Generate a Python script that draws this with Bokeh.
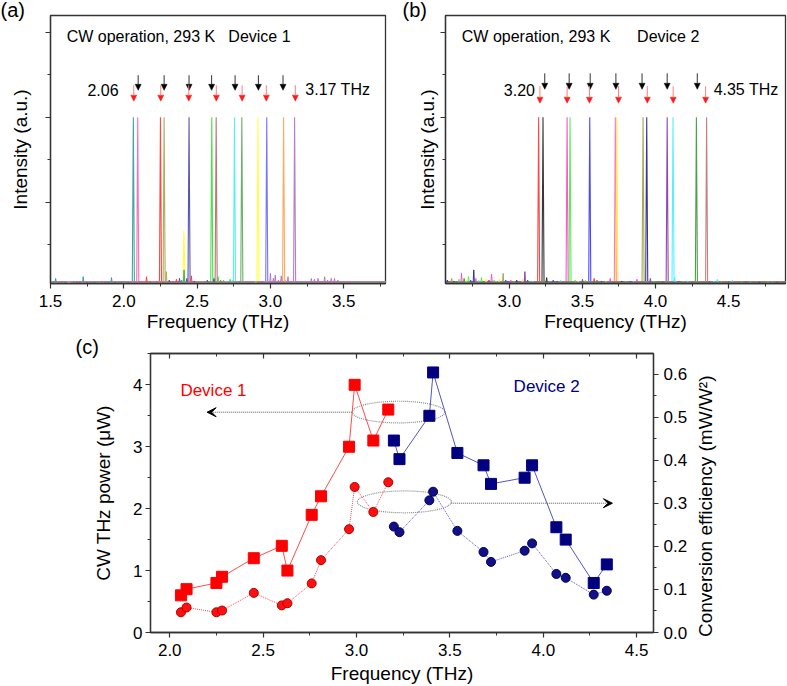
from bokeh.plotting import figure
from bokeh.models import (Range1d, LinearAxis, Label, Arrow, NormalHead, VeeHead, Title,
                          ColumnDataSource, SingleIntervalTicker, CustomJSTickFormatter,
                          PrintfTickFormatter)
from bokeh.layouts import column, row
from bokeh.embed import file_html
from bokeh.resources import INLINE

FONT = "Liberation Sans"
AX = "#333333"

# ---------------- panel (a): Device 1 spectra ----------------
a_peak_freq = [2.065, 2.095, 2.25, 2.275, 2.445, 2.60, 2.63, 2.755, 2.805, 2.915, 2.975, 3.09, 3.165]
a_peak_height = [1.0, 1.0, 1.0, 1.0, 1.0, 1.0, 1.0, 1.0, 1.0, 1.0, 1.0, 1.0, 1.0]
a_colors = ["#2a9b9b", "#ff5ea8", "#ff3333", "#a5a545", "#4545aa", "#33dd33", "#b36666",
            "#44eeee", "#55aa55", "#ffff33", "#6666ff", "#ffa050", "#b070c0"]
a_side_freq = [2.41]
a_side_height = [0.33]
a_side_color = [9]
a_black_arrows = [2.098, 2.275, 2.445, 2.599, 2.759, 2.918, 3.086]
a_red_arrows = [2.068, 2.252, 2.443, 2.631, 2.807, 2.972, 3.17]
a_noise_freq = [1.52, 1.535, 1.555, 1.576, 1.60, 1.625, 1.657, 1.68, 1.70, 1.723, 1.75, 1.775,
                1.80, 1.82, 1.848, 1.875, 1.895, 1.916, 1.94, 1.965, 1.985, 2.009, 2.03,
                2.11, 2.13, 2.155, 2.18, 2.20, 2.225, 2.29, 2.31, 2.335, 2.359, 2.38, 2.395,
                2.411, 2.43, 2.461, 2.48, 2.50, 2.525, 2.545, 2.57, 2.585, 2.615, 2.643, 2.66,
                2.68, 2.70, 2.725, 2.74, 2.77, 2.79, 2.83, 2.855, 2.88, 2.90, 2.94,
                3.00, 3.02, 3.033, 3.055, 3.074, 3.10, 3.12, 3.14, 3.185, 3.21, 3.245, 3.279,
                3.30, 3.325, 3.35, 3.37, 3.39, 3.415, 3.437, 3.46, 3.50, 3.56, 3.61, 3.653,
                3.70, 3.745]
a_noise_height = [0.03, 0.05, 0.02, 0.035, 0.02, 0.025, 0.03, 0.02, 0.025, 0.06, 0.02, 0.025,
                  0.02, 0.03, 0.03, 0.02, 0.025, 0.055, 0.02, 0.03, 0.02, 0.03, 0.02,
                  0.03, 0.025, 0.06, 0.03, 0.035, 0.03, 0.09, 0.04, 0.03, 0.045, 0.05, 0.04,
                  0.10, 0.05, 0.065, 0.035, 0.03, 0.03, 0.035, 0.04, 0.03, 0.05, 0.06, 0.04,
                  0.04, 0.035, 0.045, 0.04, 0.03, 0.035, 0.02, 0.025, 0.02, 0.025, 0.03,
                  0.08, 0.05, 0.07, 0.04, 0.065, 0.04, 0.06, 0.035, 0.03, 0.02, 0.025, 0.05,
                  0.045, 0.05, 0.03, 0.06, 0.04, 0.05, 0.05, 0.04, 0.02, 0.015, 0.015, 0.03,
                  0.015, 0.02]
a_noise_color = [0, 0, 1, 0, 0, 9, 0, 0, 2, 0, 0, 0,
                 0, 0, 0, 0, 0, 0, 0, 0, 0, 0, 0,
                 2, 1, 2, 2, 3, 2, 3, 4, 2, 2, 4, 0,
                 0, 4, 2, 4, 5, 3, 5, 4, 5, 4, 5, 6,
                 5, 7, 5, 7, 5, 0, 5, 12, 5, 9, 10,
                 12, 12, 12, 12, 12, 11, 12, 12, 12, 5, 12, 12,
                 12, 12, 12, 12, 12, 12, 12, 12, 5, 5, 5, 5,
                 5, 5]

# ---------------- panel (b): Device 2 spectra ----------------
b_peak_freq = [3.20, 3.23, 3.395, 3.415, 3.55, 3.725, 3.735, 3.915, 3.94, 4.08, 4.12, 4.28, 4.35]
b_peak_height = [1.0, 1.0, 1.0, 1.0, 1.0, 1.0, 1.0, 1.0, 1.0, 1.0, 1.0, 1.0, 1.0]
b_colors = ["#ff3333", "#222222", "#ff44cc", "#44ee44", "#3333ff", "#ff66cc", "#ffee33",
            "#a0a040", "#222288", "#8833aa", "#44eeff", "#339933", "#c07070"]
b_black_arrows = [3.242, 3.409, 3.553, 3.729, 3.908, 4.08, 4.286]
b_red_arrows = [3.209, 3.395, 3.548, 3.747, 3.944, 4.121, 4.343]
b_noise_freq = [2.575, 2.59, 2.605, 2.62, 2.64, 2.655, 2.672, 2.69, 2.705, 2.72, 2.735, 2.756,
                2.77, 2.79, 2.809, 2.825, 2.84, 2.86, 2.878, 2.895, 2.91, 2.93, 2.957, 2.975,
                2.99, 3.01, 3.03, 3.05, 3.07, 3.09, 3.106, 3.125, 3.14, 3.16, 3.18, 3.255,
                3.28, 3.30, 3.325, 3.35, 3.37, 3.45, 3.47, 3.50, 3.52, 3.58, 3.60, 3.63,
                3.66, 3.69, 3.77, 3.80, 3.83, 3.85, 3.873, 3.965, 3.99, 4.02, 4.05, 4.132,
                4.16, 4.19, 4.22, 4.25, 4.30, 4.37, 4.40, 4.423, 4.45, 4.48, 4.50, 4.526,
                4.56, 4.59, 4.62, 4.65, 4.68, 4.71, 4.74, 4.77, 4.80, 4.83, 4.86]
b_noise_height = [0.04, 0.03, 0.05, 0.035, 0.03, 0.045, 0.08, 0.05, 0.04, 0.06, 0.04, 0.10,
                  0.05, 0.04, 0.055, 0.035, 0.045, 0.04, 0.075, 0.04, 0.035, 0.045, 0.08, 0.04,
                  0.035, 0.04, 0.03, 0.04, 0.035, 0.045, 0.09, 0.04, 0.03, 0.035, 0.03, 0.055,
                  0.035, 0.04, 0.035, 0.04, 0.03, 0.04, 0.035, 0.045, 0.04, 0.05, 0.04, 0.035,
                  0.03, 0.05, 0.035, 0.03, 0.035, 0.03, 0.045, 0.05, 0.03, 0.035, 0.03, 0.055,
                  0.035, 0.03, 0.035, 0.03, 0.03, 0.03, 0.035, 0.045, 0.03, 0.035, 0.03, 0.04,
                  0.03, 0.025, 0.03, 0.025, 0.03, 0.025, 0.03, 0.025, 0.03, 0.025, 0.03]
b_noise_color = [8, 2, 7, 4, 0, 3, 2, 11, 6, 3, 4, 8,
                 2, 10, 3, 0, 6, 9, 2, 3, 10, 6, 7, 4,
                 9, 2, 3, 8, 0, 6, 9, 4, 3, 10, 2, 1,
                 7, 4, 9, 10, 2, 3, 6, 9, 3, 0, 11, 4,
                 6, 2, 8, 3, 4, 10, 2, 9, 3, 11, 4, 10,
                 9, 3, 10, 11, 2, 4, 10, 10, 3, 12, 9, 10,
                 12, 3, 9, 10, 2, 4, 12, 3, 10, 9, 2]

# ---------------- panel (c): power and efficiency ----------------
d1_freq = [2.06, 2.09, 2.25, 2.28, 2.45, 2.60, 2.63, 2.76, 2.81, 2.96, 2.99, 3.09, 3.17]
d1_power = [0.60, 0.70, 0.80, 0.90, 1.20, 1.40, 1.00, 1.90, 2.20, 3.00, 4.00, 3.10, 3.60]
d1_eff = [0.047, 0.058, 0.047, 0.051, 0.092, 0.063, 0.068, 0.114, 0.168, 0.240, 0.338, 0.280, 0.349]
d2_freq = [3.20, 3.23, 3.39, 3.41, 3.54, 3.68, 3.72, 3.90, 3.94, 4.07, 4.12, 4.27, 4.34]
d2_power = [3.10, 2.80, 3.50, 4.20, 2.90, 2.70, 2.40, 2.50, 2.70, 1.70, 1.50, 0.80, 1.10]
d2_eff = [0.246, 0.233, 0.307, 0.327, 0.236, 0.187, 0.164, 0.190, 0.207, 0.136, 0.127, 0.088, 0.097]

# guide ellipses and arrows (x in THz, y in power units)
ell_x = [3.225, 3.256]
ell_y = [3.56, 2.11]
ell_w = [0.496, 0.503]
ell_h = [0.35, 0.353]
guide_x0 = [2.977, 3.507]
guide_x1 = [2.20, 4.37]
guide_y = [3.558, 2.088]

BASE = 0.03
PW = 0.007
SW = 0.004
ROW1_H = 334


def style_axis(ax, interval, labels=True, fmt=None):
    ax.ticker = SingleIntervalTicker(interval=interval, num_minor_ticks=2)
    ax.axis_line_color = AX
    ax.axis_line_width = 1.3
    ax.major_tick_line_color = AX
    ax.minor_tick_line_color = AX
    ax.major_tick_line_width = 1.2
    ax.major_tick_in = 0
    ax.major_tick_out = 5
    ax.minor_tick_in = 0
    ax.minor_tick_out = 3
    ax.major_label_text_font = FONT
    ax.major_label_text_font_size = "17px"
    ax.major_label_text_color = "black"
    ax.axis_label_text_font = FONT
    ax.axis_label_text_font_size = "19px"
    ax.axis_label_text_font_style = "normal"
    ax.axis_label_text_color = "black"
    if fmt is not None:
        ax.formatter = PrintfTickFormatter(format=fmt)
    if not labels:
        ax.formatter = CustomJSTickFormatter(code="return ''")
        ax.major_label_standoff = 0


def panel_letter(p, text, offset, standoff):
    p.add_layout(Title(text=text, align="left", offset=offset, standoff=standoff,
                       vertical_align="top", text_font=FONT, text_font_size="20px",
                       text_font_style="normal", text_color="black"), "above")


def spectrum_panel(xr, width, mbl, mbr, peaks, heights, colors, nf, nh, nc,
                   blk, red, letter, letter_x, t1x, t2x, t2, tlo, tlo_x, thi, thi_x, ylab_standoff,
                   ytop_blk, ytip_blk, ytop_red, ytip_red, side=None):
    p = figure(width=width, height=ROW1_H, x_range=Range1d(*xr), y_range=Range1d(0.02, 1.6),
               output_backend="svg", toolbar_location=None,
               min_border_left=mbl, min_border_right=mbr, min_border_top=15,
               min_border_bottom=ROW1_H - 284)
    p.grid.visible = False
    p.outline_line_color = AX
    p.outline_line_width = 1.3
    p.background_fill_color = "white"
    p.border_fill_color = "white"
    style_axis(p.xaxis[0], 0.5, fmt="%.1f")
    p.xaxis[0].major_label_standoff = 6
    p.xaxis[0].axis_label = "Frequency (THz)"
    p.xaxis[0].axis_label_standoff = 1
    style_axis(p.yaxis[0], 0.5, labels=False)
    p.yaxis[0].axis_label = "Intensity (a.u.)"
    p.yaxis[0].axis_label_standoff = ylab_standoff

    x0, x1 = xr
    xs = [[x0, f - PW, f, f + PW, x1] for f in peaks]
    ys = [[BASE, BASE, h, BASE, BASE] for h in heights]
    p.multi_line(xs, ys, line_color=colors, line_width=1.1, line_alpha=0.9)
    if side is not None:
        sf, sh, sc = side
        p.multi_line([[f - PW, f, f + PW] for f in sf], [[BASE, h, BASE] for h in sh],
                     line_color=[colors[i] for i in sc], line_width=1.1)
    p.multi_line([[f - SW, f, f + SW] for f in nf], [[BASE, h, BASE] for h in nh],
                 line_color=[colors[i] for i in nc], line_width=1.0, line_alpha=0.9)

    src_b = ColumnDataSource(dict(x=blk, y0=[ytop_blk] * len(blk), y1=[ytip_blk] * len(blk)))
    src_r = ColumnDataSource(dict(x=red, y0=[ytop_red] * len(red), y1=[ytip_red] * len(red)))
    p.add_layout(Arrow(end=NormalHead(size=6, fill_color="black", line_color="black", line_width=0.5),
                       x_start="x", y_start="y0", x_end="x", y_end="y1", source=src_b,
                       line_color="#333333", line_width=1))
    p.add_layout(Arrow(end=NormalHead(size=6, fill_color="#ff1a1a", line_color="#ff1a1a", line_width=0.5),
                       x_start="x", y_start="y0", x_end="x", y_end="y1", source=src_r,
                       line_color="#ff8080", line_width=1))

    p.add_layout(Label(x=t1x, y=1.478, text="CW operation, 293 K", text_font=FONT,
                       text_font_size="16px", text_baseline="middle", text_color="black"))
    p.add_layout(Label(x=t2x, y=1.478, text=t2, text_font=FONT,
                       text_font_size="16px", text_baseline="middle", text_color="black"))
    p.add_layout(Label(x=tlo_x, y=1.161, text=tlo, text_font=FONT, text_align="right",
                       text_font_size="16px", text_baseline="middle", text_color="black"))
    p.add_layout(Label(x=thi_x, y=1.161, text=thi, text_font=FONT,
                       text_font_size="16px", text_baseline="middle", text_color="black"))
    panel_letter(p, letter, letter_x, -15)
    return p


pa = spectrum_panel((1.5, 3.785), 400, 50, 15, a_peak_freq, a_peak_height, a_colors,
                    a_noise_freq, a_noise_height, a_noise_color, a_black_arrows, a_red_arrows,
                    "(a)", -50, 1.61, 2.713, "Device 1", "2.06", 1.964, "3.17 THz", 3.238, 15,
                    1.248, 1.159, 1.189, 1.095,
                    side=(a_side_freq, a_side_height, a_side_color))
pb = spectrum_panel((2.5625, 4.89), 387, 45, 2, b_peak_freq, b_peak_height, b_colors,
                    b_noise_freq, b_noise_height, b_noise_color, b_black_arrows, b_red_arrows,
                    "(b)", -43, 2.674, 3.874, "Device 2", "3.20", 3.175, "4.35 THz", 4.398, 3,
                    1.259, 1.165, 1.183, 1.083)

# ---------------- panel (c) ----------------
C_H = 686 - ROW1_H
C_W = 690
C_TOP = 353 - ROW1_H
C_BOTTOM = 52
pc = figure(width=C_W, height=C_H, x_range=Range1d(1.897, 4.59), y_range=Range1d(0, 4.506),
            output_backend="svg", toolbar_location=None,
            min_border_left=150, min_border_right=C_W - 653, min_border_top=C_TOP,
            min_border_bottom=C_BOTTOM)
pc.grid.visible = False
pc.outline_line_color = AX
pc.outline_line_width = 1.3
pc.extra_y_ranges = {"eff": Range1d(0, 0.648)}

style_axis(pc.xaxis[0], 0.5, fmt="%.1f")
pc.xaxis[0].major_label_standoff = 6
pc.xaxis[0].axis_label = "Frequency (THz)"
pc.xaxis[0].axis_label_standoff = 4
style_axis(pc.yaxis[0], 1.0, fmt="%d")
pc.yaxis[0].major_label_standoff = 3
pc.yaxis[0].axis_label = "CW THz power (\u03bcW)"
pc.yaxis[0].axis_label_standoff = 16

ax_r = LinearAxis(y_range_name="eff")
style_axis(ax_r, 0.1, fmt="%.1f")
ax_r.major_label_standoff = 5
pc.add_layout(ax_r, "right")

ax_t = LinearAxis()
style_axis(ax_t, 0.5, labels=False)
ax_t.major_tick_in = 5
ax_t.major_tick_out = 0
ax_t.minor_tick_in = 3
ax_t.minor_tick_out = 0
pc.add_layout(ax_t, "above")
panel_letter(pc, "(c)", -75, -12)

pc.ellipse(x=ell_x, y=ell_y, width=ell_w, height=ell_h, fill_color=None,
           line_color="#8a8a8a", line_dash="1 1", line_width=1.2)
for i in range(2):
    pc.add_layout(Arrow(end=VeeHead(size=9, fill_color="black", line_color="black"),
                        x_start=guide_x0[i], y_start=guide_y[i], x_end=guide_x1[i], y_end=guide_y[i],
                        line_color="#555555", line_dash="1 1", line_width=1))

pc.line(d1_freq, d1_power, line_color="#ff4d4d", line_width=1)
pc.line(d1_freq, d1_eff, y_range_name="eff", line_color="#ff4d4d", line_width=1, line_dash="1 1")
pc.line(d2_freq, d2_power, line_color="#5555bb", line_width=1)
pc.line(d2_freq, d2_eff, y_range_name="eff", line_color="#5555bb", line_width=1, line_dash="1 1")
pc.scatter(d1_freq, d1_power, marker="square", size=11, fill_color="#ff0000", line_color="#ff0000")
pc.scatter(d2_freq, d2_power, marker="square", size=11, fill_color="#000080", line_color="#000080")
pc.scatter(d1_freq, d1_eff, y_range_name="eff", marker="circle", size=9,
           fill_color="#ff1010", line_color="#b00000")
pc.scatter(d2_freq, d2_eff, y_range_name="eff", marker="circle", size=9,
           fill_color="#10108a", line_color="#000050")

pc.add_layout(Label(x=2.057, y=3.91, text="Device 1", text_font=FONT, text_font_size="17px",
                    text_color="#ff0000", text_baseline="middle"))
pc.add_layout(Label(x=3.841, y=3.97, text="Device 2", text_font=FONT, text_font_size="17px",
                    text_color="#000080", text_baseline="middle"))

# strip carrying the title of the right-hand (efficiency) axis, reading bottom-to-top
pr = figure(width=787 - C_W, height=C_H, x_range=Range1d(0, 1), y_range=Range1d(0, 1),
            output_backend="svg", toolbar_location=None,
            min_border_left=26, min_border_right=0, min_border_top=C_TOP,
            min_border_bottom=C_BOTTOM)
pr.xaxis.visible = False
pr.yaxis.visible = False
pr.grid.visible = False
pr.outline_line_color = None
pr.add_layout(Title(text="Conversion efficiency (mW/W\u00b2)", align="left", offset=-4.5,
                    standoff=0, vertical_align="middle", text_font=FONT,
                    text_font_size="19px", text_font_style="normal", text_color="black"), "left")

layout = column(row(pa, pb, spacing=0), row(pc, pr, spacing=0), spacing=0)
open("out.html", "w").write(file_html(layout, INLINE))
